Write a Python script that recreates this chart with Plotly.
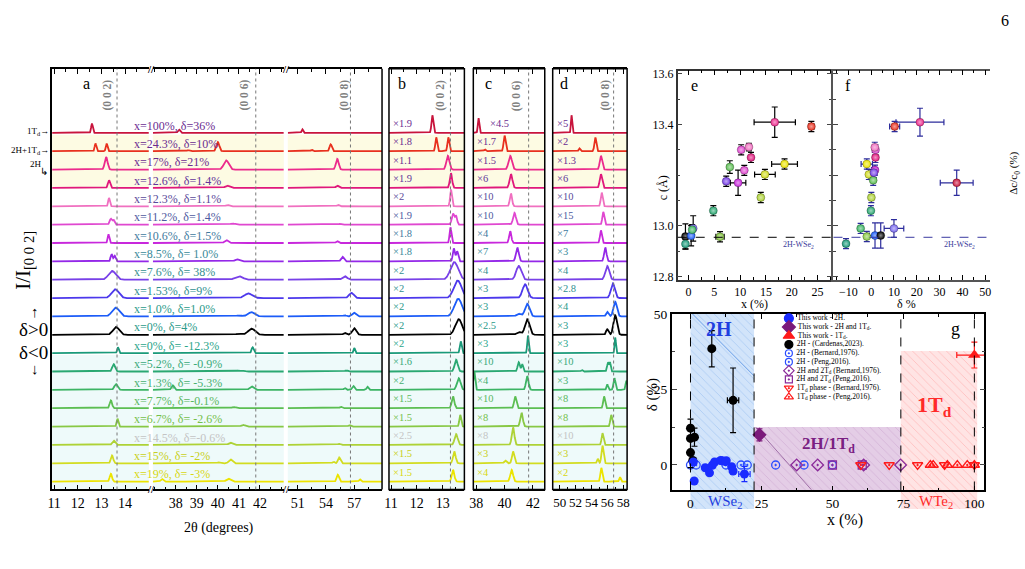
import numpy as np
import plotly.graph_objects as go

W, H = 1025, 569
FONT = "Liberation Serif"


def PX(p):
    return p / W


def PY(p):
    return 1 - p / H


# ---------------- panels a-d : XRD patterns (top -> bottom) ----------------
labels = ["x=100%, δ=36%", "x=24.3%, δ=10%", "x=17%, δ=21%", "x=12.6%, δ=1.4%",
          "x=12.3%, δ=1.1%", "x=11.2%, δ=1.4%", "x=10.6%, δ=1.5%", "x=8.5%, δ= 1.0%",
          "x=7.6%, δ= 38%", "x=1.53%, δ=9%", "x=1.0%, δ=1.0%", "x=0%, δ=4%",
          "x=0%, δ= -12.3%", "x=5.2%, δ= -0.9%", "x=1.3%, δ= -5.3%", "x=7.7%, δ=-0.1%",
          "x=6.7%, δ= -2.6%", "x=14.5%, δ=-0.6%", "x=15%, δ= -2%", "x=19%, δ= -3%"]
line_colors = ["#c8143c", "#e8301e", "#ec2a8c", "#e0187c", "#f070c0", "#e048d0", "#c828dc",
               "#9428e8", "#7840e8", "#4c38ec", "#1c5cf8", "#000000", "#1a9a7a", "#2aa872",
               "#3cb464", "#5cbe52", "#88c844", "#aed236", "#d2dc20", "#ece400"]
label_colors = ["#6b2c91", "#6b2c91", "#6b2c91", "#62359a", "#5a4a9a", "#4e5aa0", "#3f7a9e",
                "#3a8a9a", "#359090", "#309090", "#2a9a8a", "#2a9a8a", "#2aa58a", "#3aaa7a",
                "#48b070", "#5ab860", "#74c04a", "#c4c4c4", "#c8d020", "#d8d810"]
mult_b = [1.9, 1.8, 1.1, 1.9, 2, 1.9, 1.8, 1.8, 2, 2, 2, 2, 2, 1.6, 2, 1.5, 1.5, 2.5, 1.5, 1.5]
mult_c = [4.5, 1.7, 1.5, 6, 10, 10, 4, 7, 4, 3, 3, 2.5, 3, 10, 4, 10, 8, 8, 3, 4]
mult_d = [5, 2, 1.3, 6, 10, 15, 7, 3, 4, 2.8, 4, 3, 3, 10, 3, 8, 8, 10, 3, 2]

# (0 0 2) peak: position (deg), intensity as shown in panel b (row units), width (deg)
pos002 = [12.60, 13.22, 13.20, 13.32, 13.32, 13.40, 13.30, 13.43, 13.45, 13.58, 13.60, 13.62,
          13.70, 13.52, 13.62, 13.40, 13.68, 13.52, 13.45, 13.40]
int002 = [0.96, 0.75, 0.75, 0.80, 0.91, 0.60, 0.85, 0.70, 0.96, 0.96, 0.96, 0.85, 0.64, 0.64,
          0.64, 0.64, 0.64, 0.59, 0.64, 0.64]
wid002 = [0.035, 0.035, 0.06, 0.045, 0.035, 0.05, 0.035, 0.04, 0.15, 0.15, 0.15, 0.13, 0.035,
          0.06, 0.07, 0.05, 0.035, 0.06, 0.05, 0.05]
# (0 0 6) peak, intensity as shown in panel c
pos006 = [38.16, 40.0, 40.4, 40.45, 40.45, 40.7, 40.4, 40.9, 41.0, 41.45, 41.6, 41.6, 41.65,
          41.0, 41.6, 40.75, 41.2, 40.6, 40.6, 40.5]
int006 = [0.80, 0.85, 0.75, 0.75, 0.69, 0.64, 0.64, 0.75, 0.75, 0.75, 0.69, 0.85, 0.96, 0.50,
          0.75, 0.64, 0.75, 0.96, 0.64, 0.64]
wid006 = [0.05, 0.07, 0.12, 0.10, 0.08, 0.10, 0.08, 0.10, 0.18, 0.18, 0.16, 0.16, 0.05, 0.08,
          0.09, 0.08, 0.09, 0.09, 0.08, 0.10]
# (0 0 8) peak, intensity as shown in panel d
pos008 = [51.5, 54.5, 55.2, 55.2, 55.3, 55.5, 55.2, 55.75, 56.0, 56.7, 57.0, 57.0, 57.0, 56.1,
          56.9, 55.6, 56.5, 55.4, 55.4, 55.25]
int008 = [0.96, 0.75, 0.75, 0.75, 0.75, 0.69, 0.69, 0.75, 0.75, 0.80, 0.80, 1.07, 0.85, 0.50,
          0.64, 0.64, 0.64, 0.64, 0.96, 0.75]
wid008 = [0.08, 0.12, 0.15, 0.15, 0.12, 0.12, 0.12, 0.15, 0.25, 0.25, 0.22, 0.22, 0.08, 0.12,
          0.12, 0.12, 0.12, 0.12, 0.13, 0.12]
# extra reflections: (row, position, intensity, width)
extra_peaks = [(1, 12.75, 0.75, 0.035), (1, 38.6, 0.10, 0.06), (1, 52.5, 0.15, 0.10),
               (5, 13.52, 0.45, 0.04), (7, 13.56, 0.55, 0.04),
               (10, 41.0, 0.15, 0.15), (10, 56.0, 0.25, 0.15),
               (11, 41.0, 0.15, 0.15), (11, 56.0, 0.30, 0.15),
               (13, 41.25, 0.40, 0.06), (13, 56.35, 0.45, 0.08), (13, 52.8, 0.08, 0.10),
               (14, 37.86, 1.0, 0.06), (14, 56.0, 0.30, 0.10), (14, 58.4, 0.50, 0.10),
               (18, 40.05, 0.15, 0.08), (18, 54.8, 0.25, 0.10),
               (19, 37.35, 0.60, 0.06), (19, 57.6, 0.25, 0.10)]
# reference reflection positions drawn as dotted lines, per axis
ref_lines = {"x": 13.66, "x2": 41.8, "x3": 56.6, "x4": 13.3, "x5": 41.7, "x6": 56.8}
hkl_labels = ["(0 0 2)", "(0 0 6)", "(0 0 8)", "(0 0 2)", "(0 0 6)", "(0 0 8)"]
yellow_rows = (1, 3)
cyan_rows = (12, 19)

# ---------------- panel e : c vs x ----------------
e_x = [-0.6, -0.6, 0.5, 0.9, 0.7, 4.8, 6.1, 7.3, 8.0, 9.6, 10.2, 10.8, 11.7, 12.1, 14.0, 14.8,
       18.6, 16.7, 23.8]
e_c = [12.958, 12.929, 12.961, 12.99, 12.985, 13.06, 12.957, 13.176, 13.232, 13.17, 13.30,
       13.219, 13.311, 13.27, 13.112, 13.203, 13.244, 13.409, 13.392]
e_xerr = [0, 0, 0, 0, 0, 0, 0.8, 0, 0, 1.5, 0, 0, 0, 0, 0, 2.0, 2.5, 4.0, 0.5]
e_cerr = [0.05, 0.02, 0.04, 0.05, 0.02, 0.02, 0.02, 0.02, 0.025, 0.05, 0.02, 0.02, 0.015, 0.02,
          0.02, 0.02, 0.02, 0.06, 0.02]
e_col = ["#000000", "#1a9a7a", "#1c5cf8", "#7a6af0", "#3cb464", "#2aa872", "#88c844", "#7840e8",
         "#5cbe52", "#c828dc", "#e048d0", "#e048d0", "#f070c0", "#e0187c", "#aed236", "#d2dc20",
         "#ece400", "#ec2a8c", "#e8301e"]
c0_wse2 = 12.955

# ---------------- panel f : c vs delta ----------------
f_d = [-11, -4.6, -1.9, 1.7, 4.2, 10.0, -1.9, -1.0, 0.9, 0.1, -0.1, 1.9, 1.9, 1.6, 1.7, 1.2,
       10.3, 21.4, 37.5]
f_c = [12.93, 12.99, 12.958, 12.962, 12.962, 12.99, 13.244, 13.203, 13.18, 13.112, 13.06, 13.27,
       13.30, 13.31, 13.22, 13.21, 13.392, 13.409, 13.17]
f_derr = [0, 0, 0, 2.5, 0, 4.3, 2.5, 0, 0, 0, 0, 0, 0, 0, 0, 0, 2.2, 10.5, 7.2]
f_cerr = [0.02, 0.02, 0.02, 0.05, 0.05, 0.035, 0.02, 0.02, 0.02, 0.02, 0.02, 0.02, 0.02, 0.02,
          0.02, 0.02, 0.02, 0.055, 0.05]
f_col = ["#1a9a7a", "#3cb464", "#88c844", "#1c5cf8", "#000000", "#7a6af0", "#ece400", "#d2dc20",
         "#5cbe52", "#aed236", "#2aa872", "#e0187c", "#e048d0", "#f070c0", "#c828dc", "#7840e8",
         "#e8301e", "#ec2a8c", "#c8143c"]

# ---------------- panel g : delta vs x ----------------
g_2h_x = [1.0, 1.3, 5.2, 6.7, 7.7, 8.5, 10.6, 11.2, 12.3, 12.6, 14.5, 15.0, 19.0]
g_2h_d = [1.0, -5.3, -0.9, -2.6, -0.1, 1.0, 1.5, 1.4, 1.1, 1.4, -0.6, -2.0, -3.0]
g_2h_xerr = [0, 0, 0, 0, 0, 0, 0, 0, 0, 0, 0, 0, 2.0]
g_2h_derr = [0, 0, 0, 0, 0, 0, 0, 0, 0, 0, 0, 0, 2.5]
g_card_x = [0, 0, 0, 1.4, 0.8, 7.5, 15.0]
g_card_d = [12.2, 8.8, 4.1, 9.2, 1.5, 38.5, 21.4]
g_card_xerr = [0, 0, 0, 0, 0, 0, 2.0]
g_card_derr = [3.0, 0, 5.0, 3.0, 0, 6.0, 10.7]
g_mix_x, g_mix_d, g_mix_derr = [24.3], [10.0], [2.0]
g_1td_x, g_1td_d, g_1td_xerr, g_1td_derr = [100], [36.4], [6.2], [4.3]
g_bern2h_x = [0, 12.5, 20, 30, 50]
g_peng2h_x = [2, 17.8, 40]
g_bernmix_x = [37.4, 44.8, 61, 74]
g_pengmix_x = [50, 60.5]
g_bern1td_x = [60, 70, 80, 89.5, 100]
g_peng1td_x = [84.5, 85.5, 90.5, 94, 97.5, 100]
trend_blue_x, trend_blue_d = [0.7, 22.4], [50, 29.5]
trend_purple_x, trend_purple_d = [23.0, 42.6], [12.5, -8.2]
phase_x0 = [0, 22.4, 74.1]
phase_x1 = [22.4, 74.1, 101.0]
phase_top = [50, 12.6, 37.7]
phase_lines = [0, 22.4, 74.1, 100]
legend_names = ["This work - 2H.", "This work - 2H and 1T<sub>d</sub>.", "This work - 1T<sub>d</sub>.",
                "2H - (Cardenas,2023).", "2H - (Bernard,1976).", "2H - (Peng,2016).",
                "2H and 2T<sub>d</sub> (Bernard,1976).", "2H and 2T<sub>d</sub> (Peng,2016).",
                "1T<sub>d</sub> phase - (Bernard,1976).", "1T<sub>d</sub> phase - (Peng,2016)."]

# ---------------- styles ----------------
BLUE, PURPLE, RED = "#1a2cff", "#7b1a7b", "#ff1a1a"
OPEN_BLUE, OPEN_PURPLE = "#2a4cff", "#8a2a9a"
legend_styles = [("circle", BLUE, 9), ("diamond", PURPLE, 10), ("triangle-up", RED, 10),
                 ("circle", "black", 8), ("circle-open-dot", OPEN_BLUE, 7), ("circle-open-dot", OPEN_BLUE, 7),
                 ("diamond-open-dot", OPEN_PURPLE, 8), ("square-open-dot", OPEN_PURPLE, 7),
                 ("triangle-down-open-dot", RED, 8), ("triangle-up-open-dot", RED, 8)]


def tint(hexc, f=0.55):
    h = hexc.lstrip("#")
    r, g, b = int(h[0:2], 16), int(h[2:4], 16), int(h[4:6], 16)
    r, g, b = [int(v + (255 - v) * f) for v in (r, g, b)]
    return f"rgb({r},{g},{b})"


def nz(arr):
    return [v if v else None for v in arr]


fig = go.Figure()
NROW = len(labels)


def region_mult(i, p):
    if p < 25:
        return mult_b[i]
    if p < 46:
        return mult_c[i]
    return mult_d[i]


def pattern(i, xs):
    peaks = [(pos002[i], int002[i], wid002[i]), (pos006[i], int006[i], wid006[i]),
             (pos008[i], int008[i], wid008[i])]
    peaks += [(p, h, w) for (r, p, h, w) in extra_peaks if r == i]
    y = np.zeros_like(xs)
    for p, h, w in peaks:
        y += h / region_mult(i, p) * np.exp(-0.5 * ((xs - p) / w) ** 2)
    return y


panel_a = [("x", 10.916, 15.007, 900), ("x2", 36.918, 43.13, 1100), ("x3", 49.95, 59.95, 700)]
panel_z = [("x4", 10.92, 13.84, 800, mult_b), ("x5", 37.79, 42.84, 800, mult_c),
           ("x6", 49.125, 58.5, 700, mult_d)]

for i in range(NROW):
    base = NROW - 1 - i
    for ax, lo, hi, n in panel_a:
        xs = np.linspace(lo, hi, n)
        fig.add_trace(go.Scatter(x=xs, y=base + pattern(i, xs), xaxis=ax, yaxis="y", mode="lines",
                                 line=dict(color=line_colors[i], width=1.8), hoverinfo="skip",
                                 showlegend=False))
    for ax, lo, hi, n, mult in panel_z:
        xs = np.linspace(lo, hi, n)
        fig.add_trace(go.Scatter(x=xs, y=base + mult[i] * pattern(i, xs), xaxis=ax, yaxis="y",
                                 mode="lines", line=dict(color=line_colors[i], width=1.8),
                                 hoverinfo="skip", showlegend=False))

# ---- panel e ----
fig.add_trace(go.Scatter(
    x=e_x, y=e_c, xaxis="x7", yaxis="y2", mode="markers", showlegend=False,
    marker=dict(size=8, color=e_col, gradient=dict(type="radial", color=[tint(c) for c in e_col]),
                line=dict(width=0.5, color="rgba(0,0,0,0.5)")),
    error_x=dict(type="data", array=nz(e_xerr), color="black", thickness=1.2, width=3),
    error_y=dict(type="data", array=nz(e_cerr), color="black", thickness=1.2, width=3)))

# ---- panel f ----
NAVY = "#2c2c9c"
fig.add_trace(go.Scatter(
    x=f_d, y=f_c, xaxis="x8", yaxis="y3", mode="markers", showlegend=False,
    marker=dict(size=8, color=f_col, gradient=dict(type="radial", color=[tint(c) for c in f_col]),
                line=dict(width=0.5, color="rgba(0,0,0,0.5)")),
    error_x=dict(type="data", array=nz(f_derr), color=NAVY, thickness=1.2, width=3),
    error_y=dict(type="data", array=nz(f_cerr), color=NAVY, thickness=1.2, width=3)))

# ---- panel g : phase regions (on extended helper axes) ----
REG_BOT = -14.6
G_BOT = -8.44
region_styles = [("rgba(205,226,250,0.9)", "rgba(120,170,235,0.8)", REG_BOT),
                 ("rgba(226,200,228,0.9)", "rgba(185,135,190,0.7)", G_BOT),
                 ("rgba(255,226,226,0.9)", "rgba(255,140,140,0.8)", REG_BOT)]
for k in range(3):
    bg, fg, bot = region_styles[k]
    x0, x1, top = phase_x0[k], phase_x1[k], phase_top[k]
    fig.add_trace(go.Scatter(x=[x0, x1, x1, x0, x0], y=[bot, bot, top, top, bot], xaxis="x9",
                             yaxis="y5", mode="lines", line=dict(width=0), fill="toself",
                             fillcolor=bg,
                             fillpattern=dict(shape="\\", fgcolor=fg, bgcolor=bg, size=6, solidity=0.15),
                             hoverinfo="skip", showlegend=False))

# ---- panel g : data ----
gax = dict(xaxis="x10", yaxis="y6", showlegend=False, hoverinfo="skip")
fig.add_trace(go.Scatter(x=trend_blue_x, y=trend_blue_d, mode="lines",
                         line=dict(color="#6a9fe8", width=1), **gax))
fig.add_trace(go.Scatter(x=trend_purple_x, y=trend_purple_d, mode="lines",
                         line=dict(color="#a070a8", width=1), **gax))
open_sets = [(g_bern2h_x, "circle-open-dot", OPEN_BLUE, 8), (g_peng2h_x, "circle-open-dot", OPEN_BLUE, 8),
             (g_bernmix_x, "diamond-open-dot", OPEN_PURPLE, 9), (g_pengmix_x, "square-open-dot", OPEN_PURPLE, 8),
             (g_bern1td_x, "triangle-down-open-dot", RED, 9), (g_peng1td_x, "triangle-up-open-dot", RED, 9)]
for xs, sym, col, sz in open_sets:
    fig.add_trace(go.Scatter(x=xs, y=[0] * len(xs), mode="markers",
                             marker=dict(symbol=sym, color=col, size=sz, line=dict(width=1.3, color=col)),
                             **gax))
fig.add_trace(go.Scatter(x=g_card_x, y=g_card_d, mode="markers", marker=dict(color="black", size=9),
                         error_x=dict(type="data", array=nz(g_card_xerr), color="black", thickness=1.2, width=3),
                         error_y=dict(type="data", array=nz(g_card_derr), color="black", thickness=1.2, width=3),
                         **gax))
fig.add_trace(go.Scatter(x=g_2h_x, y=g_2h_d, mode="markers", marker=dict(color=BLUE, size=9),
                         error_x=dict(type="data", array=nz(g_2h_xerr), color=BLUE, thickness=1.2, width=3),
                         error_y=dict(type="data", array=nz(g_2h_derr), color=BLUE, thickness=1.2, width=3),
                         **gax))
fig.add_trace(go.Scatter(x=g_mix_x, y=g_mix_d, mode="markers",
                         marker=dict(symbol="diamond", color=PURPLE, size=11),
                         error_y=dict(type="data", array=g_mix_derr, color=PURPLE, thickness=1.2, width=3),
                         **gax))
fig.add_trace(go.Scatter(x=g_1td_x, y=g_1td_d, mode="markers",
                         marker=dict(symbol="triangle-up", color=RED, size=11),
                         error_x=dict(type="data", array=g_1td_xerr, color=RED, thickness=1.2, width=3),
                         error_y=dict(type="data", array=g_1td_derr, color=RED, thickness=1.2, width=3),
                         **gax))

# ---- panel g : legend (helper axes) ----
for k, name in enumerate(legend_names):
    sym, col, sz = legend_styles[k]
    fig.add_trace(go.Scatter(x=[0.05], y=[k], xaxis="x11", yaxis="y7", mode="markers+text",
                             text=[" " + name], textposition="middle right",
                             textfont=dict(family=FONT, size=7.5, color="black"),
                             marker=dict(symbol=sym, color=col, size=sz, line=dict(width=1.2, color=col)),
                             hoverinfo="skip", showlegend=False, cliponaxis=False))

# ---------------- layout ----------------
TF = dict(family=FONT, size=14, color="black")
Y_A = (PY(492), PY(63))
Y_RANGE = [-0.427, 22.49]


def xax(x0, x1, rng, tickvals, minor_dtick, anchor="y", font=TF):
    return dict(domain=[PX(x0), PX(x1)], range=rng, anchor=anchor, showline=True, linecolor="black",
                linewidth=1.5, mirror="ticks", ticks="inside", ticklen=5, tickcolor="black",
                tickvals=tickvals, tickfont=font, tickangle=0, showgrid=False, zeroline=False,
                minor=dict(ticks="inside", ticklen=3, dtick=minor_dtick, tickcolor="black", showgrid=False))


layout = dict(
    width=W, height=H, margin=dict(l=0, r=0, t=0, b=0), paper_bgcolor="white",
    plot_bgcolor="rgba(0,0,0,0)", hovermode=False, showlegend=False,
    font=dict(family=FONT, color="black"),
    xaxis=xax(47.5, 145, [10.916, 15.007], [11, 12, 13, 14], 0.5),
    xaxis2=xax(149, 281, [36.918, 43.13], [38, 39, 40, 41, 42], 0.5),
    xaxis3=xax(285, 380, [49.95, 59.95], [51, 54, 57], 1.5),
    xaxis4=xax(387, 463, [10.92, 13.84], [11, 12, 13], 0.5),
    xaxis5=xax(472, 544, [37.79, 42.84], [38, 40, 42], 1),
    xaxis6=xax(552, 627, [49.125, 58.5], [50, 52, 54, 56, 58], 1,
               font=dict(family=FONT, size=13, color="black")),
    yaxis=dict(domain=list(Y_A), range=Y_RANGE, anchor="x", showline=True, linecolor="black",
               linewidth=1.5, showticklabels=False, ticks="", showgrid=False, zeroline=False),
)
F11 = dict(family=FONT, size=12, color="black")
layout["xaxis7"] = xax(678, 833, [-2.1, 27.7], [0, 5, 10, 15, 20, 25], 2.5, anchor="y2", font=F11)
layout["xaxis7"]["linecolor"] = "#333"
layout["yaxis2"] = dict(domain=[PY(278), PY(65)], range=[12.788, 13.612], anchor="x7", showline=True,
                        linecolor="#333", linewidth=1.5, mirror="ticks", ticks="inside", ticklen=5,
                        tickvals=[12.8, 13.0, 13.4, 13.6], ticktext=["12.8", "13.0", "13.4", "13.6"],
                        tickfont=F11, showgrid=False, zeroline=False,
                        minor=dict(ticks="inside", ticklen=3, dtick=0.1, showgrid=False))
layout["xaxis8"] = xax(835, 993, [-16.5, 52.2], [-10, 0, 10, 20, 30, 40, 50], 5, anchor="y3", font=F11)
layout["xaxis8"]["linecolor"] = "#555"
layout["yaxis3"] = dict(domain=[PY(278), PY(65)], range=[12.788, 13.612], anchor="x8", showline=True,
                        linecolor="#555", linewidth=1.5, ticks="inside", ticklen=5,
                        tickvals=[12.8, 13.0, 13.2, 13.4, 13.6], showticklabels=False,
                        showgrid=False, zeroline=False,
                        minor=dict(ticks="inside", ticklen=3, dtick=0.1, showgrid=False))
layout["yaxis4"] = dict(overlaying="y3", side="right", anchor="x8", range=[-1.171, 4.914], showline=True,
                        linecolor="#555", linewidth=1.5, ticks="inside", ticklen=5, tickvals=[0, 2, 4],
                        tickfont=F11, showgrid=False, zeroline=False,
                        minor=dict(ticks="inside", ticklen=3, dtick=1, showgrid=False))
layout["xaxis9"] = dict(domain=[PX(672), PX(987)], range=[-6.6, 103.5], anchor="y5", visible=False)
layout["yaxis5"] = dict(domain=[PY(512), PY(313)], range=[REG_BOT, 50], anchor="x9", visible=False)
layout["xaxis10"] = xax(672, 987, [-6.6, 103.5], [0, 25, 50, 75, 100], 12.5, anchor="y6",
                        font=dict(family=FONT, size=13.5, color="black"))
layout["yaxis6"] = dict(domain=[PY(493), PY(313)], range=[G_BOT, 50], anchor="x10", showline=True,
                        linecolor="black", linewidth=1.5, mirror="ticks", ticks="inside", ticklen=5,
                        tickvals=[0, 25, 50], tickfont=dict(family=FONT, size=13.5, color="black"),
                        showgrid=False, zeroline=False,
                        minor=dict(ticks="inside", ticklen=3, dtick=12.5, showgrid=False))
layout["xaxis11"] = dict(domain=[PX(784), PX(905)], range=[0, 1], anchor="y7", visible=False)
layout["yaxis7"] = dict(domain=[PY(402), PY(313)], range=[9.5, -0.5], anchor="x11", visible=False)

# ---------------- shapes ----------------
shapes = []
yb_top = NROW - 1 - yellow_rows[0] + 0.9
yb_bot = NROW - 1 - yellow_rows[1] - 0.03
cb_top = NROW - 1 - cyan_rows[0] - 0.1
for ax in ["x", "x2", "x3", "x4", "x5", "x6"]:
    shapes.append(dict(type="rect", xref=f"{ax} domain", x0=0, x1=1, yref="y", y0=yb_bot, y1=yb_top,
                       fillcolor="#fdfbe3", line=dict(width=0), layer="below"))
    shapes.append(dict(type="rect", xref=f"{ax} domain", x0=0, x1=1, yref="y", y0=Y_RANGE[0], y1=cb_top,
                       fillcolor="#eefafa", line=dict(width=0), layer="below"))
    shapes.append(dict(type="line", xref=ax, x0=ref_lines[ax], x1=ref_lines[ax], yref="y domain", y0=0, y1=1,
                       line=dict(color="#777", width=1, dash="dot")))
shapes.append(dict(type="line", xref="x3 domain", x0=1, x1=1, yref="y domain", y0=0, y1=1,
                   line=dict(color="black", width=1.5)))
for ax in ["x4", "x5", "x6"]:
    shapes.append(dict(type="rect", xref=f"{ax} domain", x0=0, x1=1, yref="y domain", y0=0, y1=1,
                       line=dict(color="black", width=1.5)))
shapes.append(dict(type="line", xref="x7 domain", x0=0, x1=1, yref="y2", y0=c0_wse2, y1=c0_wse2,
                   line=dict(color="black", width=1, dash="dash")))
shapes.append(dict(type="line", xref="x8 domain", x0=0, x1=1, yref="y3", y0=c0_wse2, y1=c0_wse2,
                   line=dict(color="#3a3aa0", width=1, dash="dash")))
for v in phase_lines:
    shapes.append(dict(type="line", xref="x10", x0=v, x1=v, yref="y6 domain", y0=0, y1=1,
                       line=dict(color="black", width=1, dash="dash")))
layout["shapes"] = shapes

# ---------------- annotations ----------------
ann = []


def A(text, x, y, size=12, color="black", xref="paper", yref="paper", xanchor="center",
      yanchor="middle", angle=0):
    ann.append(dict(text=text, x=x, y=y, xref=xref, yref=yref, xanchor=xanchor, yanchor=yanchor,
                    textangle=angle, showarrow=False, font=dict(family=FONT, size=size, color=color)))


for i in range(NROW):
    base = NROW - 1 - i
    A(labels[i], PX(128), base + 0.4, size=12, color=label_colors[i], yref="y", xanchor="left")
    A(f"×{mult_b[i]:g}", 0.03, base + 0.52, size=10.5, color=label_colors[i], xref="x4 domain",
      yref="y", xanchor="left")
    A(f"×{mult_c[i]:g}", 0.2 if i == 0 else 0.03, base + 0.52, size=10.5, color=label_colors[i],
      xref="x5 domain", yref="y", xanchor="left")
    A(f"×{mult_d[i]:g}", 0.03, base + 0.52, size=10.5, color=label_colors[i], xref="x6 domain",
      yref="y", xanchor="left")

for lab, xp in zip(hkl_labels, [103, 241, 342, 439, 515, 605]):
    A(f"<b>{lab}</b>", PX(xp), PY(90), size=11.5, color="#808080", angle=-90)
for t, xp in zip(["a", "b", "c", "d"], [82, 400, 487, 563]):
    A(t, PX(xp), PY(78), size=16)
for xp in [147, 283]:
    for yp in [63, 492]:
        A("<b>//</b>", PX(xp), PY(yp), size=11)
A("1T<sub>d</sub>→", PX(46), NROW - 1 + 0.05, size=9, yref="y", xanchor="right")
A("2H+1T<sub>d</sub>→", PX(46), NROW - 2 + 0.05, size=9, yref="y", xanchor="right")
A("2H", PX(39), PY(160), size=9, xanchor="right")
A("↳", PX(45), PY(168), size=10, xanchor="right")
A("I/I<sub>[0 0 2]</sub>", PX(19), PY(258), size=21, angle=-90)
A("↑", PX(30), PY(311), size=15)
A("δ>0", PX(29), PY(329), size=19)
A("δ<0", PX(29), PY(352), size=19)
A("↓", PX(30), PY(369), size=15)
A("2θ (degrees)", PX(216), PY(531), size=14)

A("e", PX(695), PY(80), size=16)
A("c (Å)", PX(664), PY(184), size=12, angle=-90)
A("2H-WSe<sub>2</sub>", PX(800), PY(243), size=8, color="#3a3a9a")
A("x (%)", PX(755), PY(303), size=12)
A("f", PX(850), PY(80), size=16)
A("2H-WSe<sub>2</sub>", PX(962), PY(243), size=8, color="#3a3a9a")
A("δ %", PX(909), PY(303), size=12)
A("Δc/c<sub>0</sub> (%)", PX(1017), PY(170), size=11, angle=-90)

A("<b>2H</b>", 10.1, 45.0, size=20, color="#1f3fe0", xref="x10", yref="y6")
A("<b>2H/1T<sub>d</sub></b>", 48.6, 6.5, size=17, color="#7a2082", xref="x10", yref="y6")
A("<b>1T<sub>d</sub></b>", 86.0, 19.5, size=22, color="#ff2a2a", xref="x10", yref="y6")
A("g", 93.4, 45.0, size=18, xref="x10", yref="y6")
A("WSe<sub>2</sub>", PX(726), PY(505), size=15, color="#1f3fe0")
A("WTe<sub>2</sub>", PX(938), PY(505), size=15, color="#ff2a2a")
A("δ (%)", PX(652), PY(395), size=15, angle=-90)
A("x (%)", PX(847), PY(523), size=16)
A("6", PX(1008), PY(14), size=16)
layout["annotations"] = ann

fig.update_layout(**layout)
fig.write_html("out.html")
